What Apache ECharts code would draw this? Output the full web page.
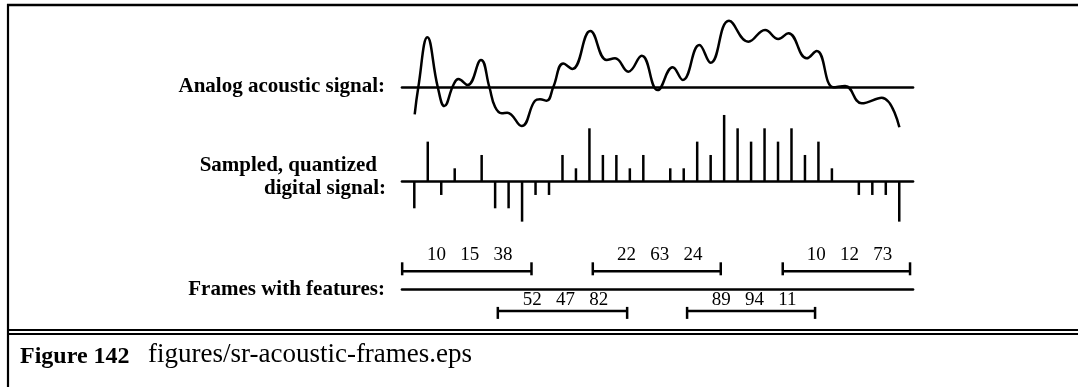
<!DOCTYPE html>
<html>
<head>
<meta charset="utf-8">
<script src="https://cdn.jsdelivr.net/npm/echarts@6/dist/echarts.min.js"></script>
<style>
  html, body { margin: 0; padding: 0; background: #fff; }
  #chart { width: 1078px; height: 387px; }
</style>
</head>
<body>
<div id="chart"></div>
<script>
// analog waveform, x in sample units, y in quantization steps
var analogT = [0.03, 0.30, 0.97, 1.74, 2.23, 2.90, 3.27, 3.96, 4.95, 5.57, 5.99, 6.49, 6.90, 7.97,
  8.96, 9.33, 9.83, 10.32, 11.06, 11.73, 13.07, 14.28, 14.90, 15.89, 16.88, 18.07, 19.18, 19.93,
  21.16, 22.00, 23.36, 24.80, 26.04, 27.02, 27.77, 29.13, 29.87, 31.11, 31.98, 33.21, 34.70, 36.01];
var analogV = [-2.05, 0, 3.73, 0, -1.43, 0.15, 0.60, 0.15, 2.03, 0, -1.48, -1.97, -1.93, -2.93,
  -1.03, -0.92, -1.03, 0, 1.76, 1.35, 4.20, 2.03, 2.15, 1.15, 2.35, -0.23, 1.48, 0.53,
  3.15, 1.82, 4.97, 3.40, 4.28, 3.60, 4.03, 2.15, 2.70, -0.02, 0.08, -1.22, -0.80, -3.02];

// sampled, quantized values (one per sample)
var samples = [-2, 3, -1, 1, 0, 2, -2, -2, -3, -1, -1, 2, 1, 4, 2, 2, 1, 2, 0,
  1, 1, 3, 2, 5, 4, 3, 4, 3, 4, 2, 3, 1, 0, -1, -1, -1, -3];

// frames (in sample units) and their feature values
var frameStart = [-0.9, 6.2, 13.25, 20.25, 27.35];
var frameEnd = [8.7, 15.8, 22.75, 29.75, 36.8];
var frameRow = [1, -1.2, 1, -1.2, 1];
var frameFeatures = [[10, 15, 38], [52, 47, 82], [22, 63, 24], [89, 94, 11], [10, 12, 73]];

var chart = echarts.init(document.getElementById('chart'));

var analogData = analogT.map(function (t, i) { return [t, analogV[i]]; });
var sampleData = samples.map(function (v, i) { return [i, v]; });
var frameData = frameStart.map(function (s, i) { return [s, frameEnd[i], frameRow[i]]; });

var xMin = -0.913, xMax = 37.02;
function xAx(idx) {
  return {
    type: 'value', gridIndex: idx, min: xMin, max: xMax,
    axisLine: { show: true, onZero: true, lineStyle: { color: '#000', width: 2.7 } },
    axisTick: { show: false }, axisLabel: { show: false }, splitLine: { show: false }
  };
}
function yAx(idx, mn, mx) {
  return {
    type: 'value', gridIndex: idx, min: mn, max: mx, show: false,
    splitLine: { show: false }
  };
}

var boldFont = 'bold 21px "Liberation Serif"';
function leftLabel(txt, x, y) {
  return {
    type: 'text', x: x, y: y,
    style: { text: txt, font: boldFont, fill: '#000', align: 'right', verticalAlign: 'middle' }
  };
}
function hline(x1, x2, y, w) {
  return { type: 'line', shape: { x1: x1, y1: y, x2: x2, y2: y }, style: { stroke: '#000', lineWidth: w } };
}

chart.setOption({
  animation: false,
  grid: [
    { left: 402, width: 511, top: 15, height: 120 },
    { left: 402, width: 511, top: 108.3, height: 120 },
    { left: 402, width: 511, top: 253.3, height: 72 }
  ],
  xAxis: [xAx(0), xAx(1), xAx(2)],
  yAxis: [yAx(0, -3.6, 5.4), yAx(1, -3.5, 5.5), yAx(2, -2, 2)],
  series: [
    {
      type: 'line', xAxisIndex: 0, yAxisIndex: 0, data: analogData,
      smooth: 0.45, showSymbol: false, lineStyle: { color: '#000', width: 2.5 }
    },
    {
      type: 'bar', xAxisIndex: 1, yAxisIndex: 1, data: sampleData,
      barWidth: 2.5, itemStyle: { color: '#000' }
    },
    {
      type: 'custom', xAxisIndex: 2, yAxisIndex: 2, data: frameData,
      renderItem: function (params, api) {
        var a = api.coord([api.value(0), api.value(2)]);
        var b = api.coord([api.value(1), api.value(2)]);
        var up = api.value(2) > 0;
        var t1 = up ? 9 : 4, t2 = up ? 4 : 8;
        var st = { stroke: '#000', lineWidth: 2.5 };
        return {
          type: 'group',
          children: [
            { type: 'line', shape: { x1: a[0], y1: a[1], x2: b[0], y2: b[1] }, style: st },
            { type: 'line', shape: { x1: a[0], y1: a[1] - t1, x2: a[0], y2: a[1] + t2 }, style: st },
            { type: 'line', shape: { x1: b[0], y1: b[1] - t1, x2: b[0], y2: b[1] + t2 }, style: st },
            {
              type: 'text',
              style: {
                text: frameFeatures[params.dataIndex].join('   '),
                x: (a[0] + b[0]) / 2 + 3, y: a[1] - (up ? 16 : 11),
                align: 'center', verticalAlign: 'middle',
                font: '19px "Liberation Serif"', fill: '#000'
              }
            }
          ]
        };
      }
    }
  ],
  graphic: [
    hline(7, 1078, 5, 2.5),
    { type: 'line', shape: { x1: 8, y1: 4, x2: 8, y2: 387 }, style: { stroke: '#000', lineWidth: 2.2 } },
    hline(8, 1078, 330, 2),
    hline(8, 1078, 334, 2),
    leftLabel('Analog acoustic signal:', 385, 87),
    leftLabel('Sampled, quantized', 377, 166),
    leftLabel('digital signal:', 386, 189),
    leftLabel('Frames with features:', 385, 290),
    {
      type: 'text', x: 20, y: 357,
      style: { text: 'Figure 142', font: 'bold 24px "Liberation Serif"', fill: '#000', align: 'left', verticalAlign: 'middle' }
    },
    {
      type: 'text', x: 148, y: 355,
      style: { text: 'figures/sr-acoustic-frames.eps', font: '27px "Liberation Serif"', fill: '#000', align: 'left', verticalAlign: 'middle' }
    }
  ]
});
</script>
</body>
</html>
